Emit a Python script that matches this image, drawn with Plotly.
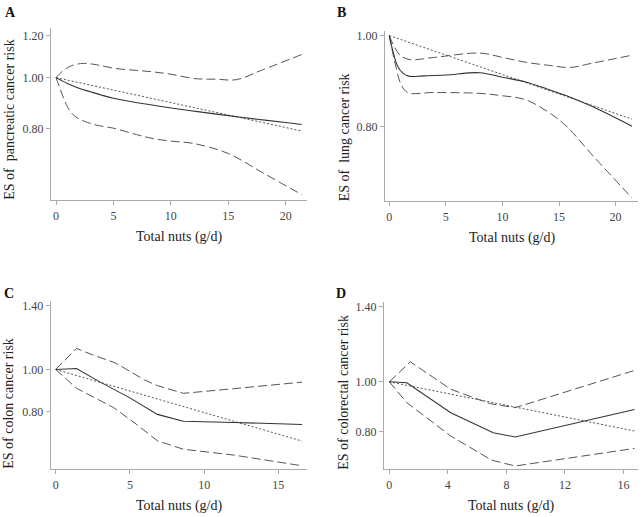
import math
import plotly.graph_objects as go

# ---------------- data ----------------
# Panel A: pancreatic cancer
a_solid_x = [0, 1, 2, 3, 4, 5, 7.5, 10, 12.5, 15, 17.5, 20, 21.4]
a_solid_y = [1.0, 0.975, 0.955, 0.94, 0.926, 0.914, 0.893, 0.876, 0.861, 0.847, 0.834, 0.822, 0.815]
a_upper_x = [0, 0.5, 1, 1.5, 2.4, 3.5, 5, 7, 8.5, 10, 12, 14, 15.7, 18, 21.4]
a_upper_y = [1.0, 1.025, 1.044, 1.056, 1.064, 1.058, 1.042, 1.032, 1.025, 1.015, 0.996, 0.993, 0.991, 1.035, 1.106]
a_lower_x = [0, 0.3, 0.7, 1, 1.5, 2, 2.5, 3.5, 5, 7, 8.5, 10, 12, 15, 18, 21.4]
a_lower_y = [1.0, 0.96, 0.91, 0.88, 0.85, 0.835, 0.826, 0.813, 0.802, 0.78, 0.766, 0.758, 0.75, 0.718, 0.66, 0.6]
a_trend_x = [0, 21.4]
a_trend_y = [1.0, 0.792]

# Panel B: lung cancer
b_solid_x = [0, 0.3, 0.7, 1.2, 1.8, 3, 5, 8, 10, 12, 14, 16, 18, 21.45]
b_solid_y = [1.0, 0.965, 0.93, 0.912, 0.905, 0.906, 0.908, 0.913, 0.903, 0.893, 0.877, 0.86, 0.84, 0.801]
b_upper_x = [0, 0.5, 1, 1.8, 4, 8, 10, 12, 14, 16, 18, 21.45]
b_upper_y = [1.0, 0.97, 0.952, 0.943, 0.948, 0.958, 0.948, 0.937, 0.93, 0.925, 0.935, 0.953]
b_lower_x = [0, 0.3, 0.6, 1, 1.6, 4, 8, 10, 12, 14, 15.7, 18, 21.45]
b_lower_y = [1.0, 0.96, 0.925, 0.89, 0.87, 0.87, 0.868, 0.863, 0.855, 0.83, 0.8, 0.745, 0.672]
b_trend_x = [0, 21.45]
b_trend_y = [1.0, 0.815]

# Panel C: colon cancer
c_solid_x = [0, 1, 1.4, 3, 5, 6.85, 8.6, 12, 16.6]
c_solid_y = [1.0, 1.003, 1.005, 0.935, 0.86, 0.788, 0.76, 0.755, 0.747]
c_upper_x = [0, 1.4, 2.5, 4, 5, 6, 6.85, 8.6, 12, 16.6]
c_upper_y = [1.0, 1.118, 1.08, 1.036, 0.99, 0.945, 0.918, 0.881, 0.903, 0.935]
c_lower_x = [0, 1.4, 3.9, 5.5, 6.85, 8.6, 12, 16.6]
c_lower_y = [1.0, 0.905, 0.817, 0.745, 0.685, 0.655, 0.635, 0.6]
c_trend_x = [0, 16.6]
c_trend_y = [1.0, 0.684]

# Panel D: colorectal cancer
d_solid_x = [0, 1.2, 4.2, 7.1, 8.6, 16.75]
d_solid_y = [1.0, 0.996, 0.871, 0.797, 0.782, 0.884]
d_upper_x = [0, 1.44, 4.2, 6.9, 8.6, 16.75]
d_upper_y = [1.0, 1.093, 0.967, 0.907, 0.891, 1.052]
d_lower_x = [0, 1.2, 4.2, 7.0, 8.6, 16.75]
d_lower_y = [1.0, 0.911, 0.785, 0.705, 0.687, 0.743]
d_trend_x = [0, 16.75]
d_trend_y = [1.0, 0.803]

panel_letters = ["A", "B", "C", "D"]
y_titles = ["ES of  pancreatic cancer risk", "ES of  lung cancer risk",
            "ES of colon cancer risk", "ES of colorectal cancer risk"]
x_title = "Total nuts (g/d)"
x_ticks = [[0, 5, 10, 15, 20], [0, 5, 10, 15, 20], [0, 5, 10, 15], [0, 4, 8, 12, 16]]
y_ticks = [[0.80, 1.00, 1.20], [0.80, 1.00], [0.80, 1.00, 1.40], [0.80, 1.00, 1.40]]
shapes_ = ["spline", "spline", "linear", "linear"]

# ---------------- layout geometry (pixels) ----------------
W, H = 642, 517
px_x = [(51, 307), (385, 638), (50.7, 306.7), (384, 638)]
px_y = [(25, 198.5), (28, 199.5), (300, 469), (301, 469)]
x_ranges = [[-0.435, 21.85], [-0.376, 21.98], [-0.337, 16.91], [-0.362, 16.99]]
y_ranges = [[-0.2326, 0.0943], [-0.1762, 0.005], [-0.2299, 0.157], [-0.1694, 0.154]]

series = [
    (a_solid_x, a_solid_y, a_upper_x, a_upper_y, a_lower_x, a_lower_y, a_trend_x, a_trend_y),
    (b_solid_x, b_solid_y, b_upper_x, b_upper_y, b_lower_x, b_lower_y, b_trend_x, b_trend_y),
    (c_solid_x, c_solid_y, c_upper_x, c_upper_y, c_lower_x, c_lower_y, c_trend_x, c_trend_y),
    (d_solid_x, d_solid_y, d_upper_x, d_upper_y, d_lower_x, d_lower_y, d_trend_x, d_trend_y),
]

SERIF = "Liberation Serif, Times New Roman, serif"
fig = go.Figure()
annotations = []
layout = {}

for i in range(4):
    sx, sy, ux, uy, lx, ly, tx, ty = series[i]
    xa = "x" if i == 0 else f"x{i+1}"
    ya = "y" if i == 0 else f"y{i+1}"
    common = dict(xaxis=xa, yaxis=ya, mode="lines", showlegend=False, hoverinfo="skip")
    shp = shapes_[i]
    fig.add_trace(go.Scatter(x=ux, y=uy, line=dict(color="#555", width=1, dash="9px,4px"),
                             line_shape=shp, **common))
    fig.add_trace(go.Scatter(x=lx, y=ly, line=dict(color="#555", width=1, dash="9px,4px"),
                             line_shape=shp, **common))
    fig.add_trace(go.Scatter(x=tx, y=ty, line=dict(color="#555", width=1, dash="2px,2px"), **common))
    fig.add_trace(go.Scatter(x=sx, y=sy, line=dict(color="#333", width=1.1),
                             line_shape=shp, **common))

    x0, x1 = px_x[i]
    yt, yb = px_y[i]
    xkey = "xaxis" if i == 0 else f"xaxis{i+1}"
    ykey = "yaxis" if i == 0 else f"yaxis{i+1}"
    layout[xkey] = dict(
        domain=[x0 / W, x1 / W], anchor=ya, range=x_ranges[i],
        tickvals=x_ticks[i], ticktext=[str(v) for v in x_ticks[i]],
        showline=True, linecolor="#aaa", linewidth=1, ticks="outside", ticklen=4,
        tickcolor="#aaa", showgrid=False, zeroline=False,
        tickfont=dict(family=SERIF, size=12, color="#444"),
    )
    layout[ykey] = dict(
        domain=[1 - yb / H, 1 - yt / H], anchor=xa, type="log", range=y_ranges[i],
        tickvals=y_ticks[i], ticktext=[f"{v:.2f}" for v in y_ticks[i]],
        showline=True, linecolor="#aaa", linewidth=1, ticks="outside", ticklen=4,
        tickcolor="#aaa", showgrid=False, zeroline=False,
        tickfont=dict(family=SERIF, size=12, color="#444"),
    )
    # axis titles
    annotations.append(dict(
        text=x_title, xref="paper", yref="paper",
        x=(x0 + x1) / 2 / W, y=1 - (yb + 37) / H, xanchor="center", yanchor="middle",
        showarrow=False, font=dict(family=SERIF, size=14, color="#222"),
    ))
    ytx = [10, 344, 9, 344][i]
    annotations.append(dict(
        text=y_titles[i], xref="paper", yref="paper", textangle=-90,
        x=ytx / W, y=1 - (yb + 2) / H, xanchor="center", yanchor="bottom",
        showarrow=False, font=dict(family=SERIF, size=14, color="#222"),
    ))
    lx_, ly_ = [(11, 10), (341, 10), (9, 292), (341, 292)][i]
    annotations.append(dict(
        text=f"<b>{panel_letters[i]}</b>", xref="paper", yref="paper",
        x=lx_ / W, y=1 - ly_ / H, xanchor="center", yanchor="middle",
        showarrow=False, font=dict(family=SERIF, size=14, color="#111"),
    ))

fig.update_layout(
    width=W, height=H, margin=dict(l=0, r=0, t=0, b=0),
    paper_bgcolor="white", plot_bgcolor="white",
    annotations=annotations, **layout,
)

fig.write_html(
    "out.html",
    config={"displayModeBar": False},
    post_script="document.body.style.margin='0';document.body.style.overflow='hidden';",
)
